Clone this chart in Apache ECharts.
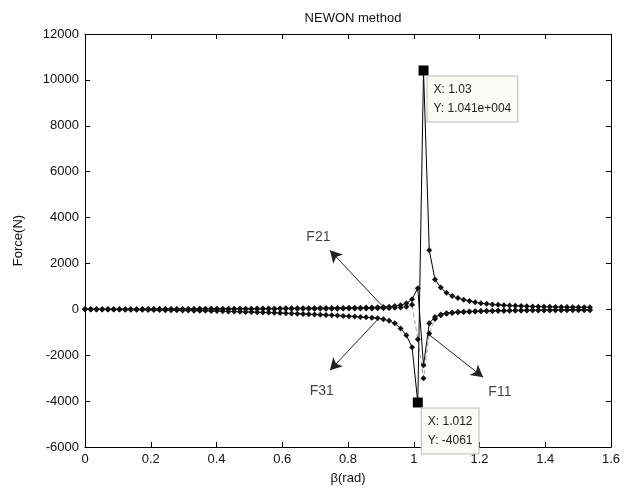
<!DOCTYPE html>
<html>
<head>
<meta charset="utf-8">
<script src="https://cdn.jsdelivr.net/npm/echarts@6/dist/echarts.min.js"></script>
<style>html,body{margin:0;padding:0;background:#fff}#c{width:629px;height:493px}</style>
</head>
<body>
<div id="c"></div>
<script>
// angle in degrees (converted to rad for plotting)
const betaDeg = [0,1,2,3,4,5,6,7,8,9,10,11,12,13,14,15,16,17,18,19,20,21,22,23,24,25,26,27,28,29,30,31,32,33,34,35,36,37,38,39,40,41,42,43,44,45,46,47,48,49,50,51,52,53,54,55,56,57,58,59,60,61,62,63,64,65,66,67,68,69,70,71,72,73,74,75,76,77,78,79,80,81,82,83,84,85,86,87,88];

const F11 = [0,0,1,1,2,2,3,3,4,4,5,5,6,6,7,7,8,8,9,9,10,10,11,11,12,12,13,13,14,15,16,17,18,19,20,21,22,23,24,25,26,27,28,29,30,31,32,34,36,38,40,44,48,55,65,80,110,200,-1300,-3000,-1050,-420,-260,-190,-155,-130,-114,-102,-92,-84,-77,-71,-66,-62,-58,-54,-51,-48,-45,-43,-41,-39,-37,-35,-34,-33,-32,-31,-30];
const F21 = [0,1,2,3,4,5,6,7,8,9,10,11,12,13,14,15,16,17,18,19,20,21,22,23,24,25,26,27,28,30,32,34,36,38,40,42,44,46,48,50,52,54,56,58,60,62,65,68,72,77,83,90,100,115,140,180,260,440,915,-2440,-610,-330,-220,-170,-140,-120,-105,-95,-85,-78,-72,-66,-61,-57,-53,-50,-47,-44,-42,-40,-38,-36,-34,-33,-32,-31,-30,-29,-28];
const F31 = [0,-2,-4,-6,-8,-10,-12,-14,-17,-20,-23,-26,-29,-32,-36,-40,-44,-48,-52,-57,-62,-67,-72,-78,-84,-90,-97,-104,-111,-119,-127,-135,-143,-152,-161,-170,-180,-190,-200,-211,-222,-234,-246,-259,-272,-286,-300,-315,-331,-348,-366,-390,-430,-500,-610,-830,-1130,-1650,-4061,10410,2570,1300,950,720,580,490,420,360,310,270,240,215,195,180,165,155,145,135,128,122,116,111,106,102,98,95,92,90,88];

const seriesNames = ['F11','F21','F31'];
const yTicks = {min:-6000, max:12000, interval:2000};
const xTicks = {min:0, max:1.6, interval:0.2};

// data tips: [series index, point index, text lines]
const tips = [
  [2, 59, ['X: 1.03','Y: 1.041e+004']],
  [2, 58, ['X: 1.012','Y: -4061']]
];
// arrow annotations: name, from [x,y], to [x,y], label position [x,y]
const arrowNames = ['F21','F31','F11'];
const arrowFrom  = [[0.903,170],[0.888,-480],[1.049,-1130]];
const arrowTo    = [[0.745,2570],[0.745,-2660],[1.211,-2960]];
const arrowLabel = [[0.71,3150],[0.72,-3550],[1.262,-3600]];

const rad = d => d*Math.PI/180;
const pts = arr => betaDeg.map((d,i)=>[rad(d), arr[i]]);
const all = [F11,F21,F31];

const FONT = 'Liberation Sans';
const chart = echarts.init(document.getElementById('c'), null, {renderer:'canvas'});

const axisCommon = {
  axisLine:{show:true, onZero:false, lineStyle:{color:'#000', width:1}},
  axisTick:{show:true, inside:true, length:5, lineStyle:{color:'#000'}},
  splitLine:{show:false}
};

const series = all.map((arr, k) => ({
  name: seriesNames[k], type:'line', data: pts(arr),
  symbol:'diamond', symbolSize:6, showSymbol:true,
  z: 2+k,
  lineStyle: k===0 ? {color:'#999', width:1, type:[4,3]} : {color:'#000', width:1},
  itemStyle:{color:'#111'},
  animation:false, silent:true
}));

series[2].markPoint = {
  animation:false, silent:true,
  data: tips.map(t => ({
    coord: [rad(betaDeg[t[1]]), all[t[0]][t[1]]],
    symbol:'rect', symbolSize:10, itemStyle:{color:'#000'},
    label:{show:true, position:[9,11], align:'left', verticalAlign:'top',
      formatter: t[2].join('\n'), color:'#222', fontFamily:FONT, fontSize:12, lineHeight:19,
      backgroundColor:'#fafaf6', borderColor:'#bbbbbb', borderWidth:1, padding:[4,6,3,6]}
  }))
};

series.push({
  type:'line', data:[], silent:true, animation:false,
  markLine:{
    silent:true, animation:false, symbol:['none','arrow'], symbolSize:[10,12],
    lineStyle:{color:'#222', width:1, type:'solid'},
    label:{show:false},
    data: arrowNames.map((n,i)=>[{coord:arrowFrom[i]},{coord:arrowTo[i]}])
  }
});
series.push({
  type:'scatter', symbolSize:0, silent:true, animation:false,
  data: arrowNames.map((n,i)=>({value:arrowLabel[i], name:n})),
  label:{show:true, position:'inside', formatter: p=>p.name, color:'#111', fontFamily:FONT, fontSize:14}
});

chart.setOption({
  backgroundColor:'#fff',
  animation:false,
  title:{text:'NEWON method', left:348, textAlign:'center', top:7,
    textStyle:{fontFamily:FONT, fontSize:13, fontWeight:'normal', color:'#111'}},
  grid:{left:85, right:18, top:34, bottom:46, containLabel:false},
  xAxis:[
    Object.assign({type:'value', position:'bottom', min:xTicks.min, max:xTicks.max, interval:xTicks.interval,
      name:'β(rad)', nameLocation:'middle', nameGap:25,
      nameTextStyle:{fontFamily:FONT, fontSize:13, color:'#111'},
      axisLabel:{fontFamily:FONT, fontSize:13, color:'#111', margin:6,
        formatter: v => String(Math.round(v*10)/10)}}, axisCommon),
    Object.assign({type:'value', position:'top', min:xTicks.min, max:xTicks.max, interval:xTicks.interval,
      axisLabel:{show:false}}, axisCommon)
  ],
  yAxis:[
    Object.assign({type:'value', position:'left', min:yTicks.min, max:yTicks.max, interval:yTicks.interval,
      name:'Force(N)', nameLocation:'middle', nameGap:60,
      nameTextStyle:{fontFamily:FONT, fontSize:13, color:'#111'},
      axisLabel:{fontFamily:FONT, fontSize:13, color:'#111', margin:6,
        formatter: v => String(v)}}, axisCommon),
    Object.assign({type:'value', position:'right', min:yTicks.min, max:yTicks.max, interval:yTicks.interval,
      axisLabel:{show:false}}, axisCommon)
  ],
  series: series
});
</script>
</body>
</html>
